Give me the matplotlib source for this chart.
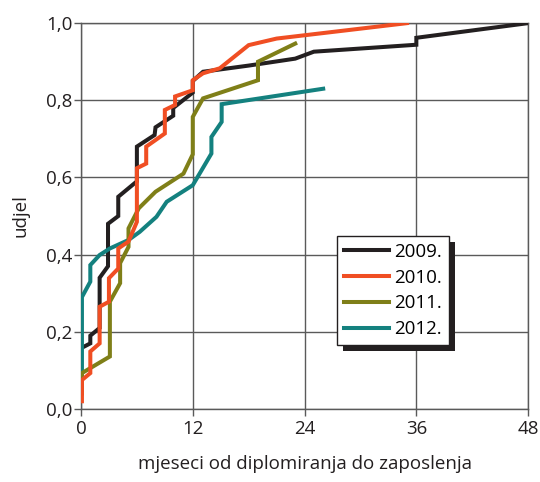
import matplotlib.pyplot as plt
from matplotlib.patches import Rectangle

plt.rcParams['font.family'] = ['Open Sans', 'DejaVu Sans']

# data (months after graduation, share employed)
months_2009 = [0.2, 1.0, 1.0, 2.0, 2.0, 2.9, 2.9, 4.0, 4.0, 6.0, 6.0, 7.9, 8.0, 9.9, 9.9,
               12.0, 12.0, 13.1, 18.0, 23.0, 25.0, 36.0, 36.0, 48.0]
share_2009 = [0.16, 0.17, 0.19, 0.21, 0.34, 0.37, 0.48, 0.50, 0.55, 0.59, 0.68, 0.71, 0.73, 0.76, 0.78,
              0.82, 0.85, 0.874, 0.89, 0.908, 0.926, 0.944, 0.962, 1.0]

months_2010 = [0.1, 0.1, 1.0, 1.0, 2.0, 2.0, 3.0, 3.0, 4.0, 4.0, 5.1, 6.0, 6.0, 7.0, 7.0, 9.0, 9.0,
               10.1, 10.1, 12.0, 12.0, 13.1, 14.9, 18.0, 21.0, 35.0]
share_2010 = [0.02, 0.075, 0.093, 0.149, 0.17, 0.265, 0.278, 0.339, 0.364, 0.416, 0.434, 0.485, 0.624,
              0.636, 0.68, 0.714, 0.775, 0.788, 0.81, 0.826, 0.852, 0.87, 0.883, 0.943, 0.96, 1.0]

months_2011 = [0.1, 0.1, 3.1, 3.1, 4.2, 4.2, 5.1, 5.1, 6.2, 8.0, 11.0, 12.0, 12.0, 13.1, 19.0, 19.0, 23.0]
share_2011 = [0.04, 0.093, 0.136, 0.278, 0.326, 0.378, 0.42, 0.468, 0.52, 0.563, 0.61, 0.66, 0.757,
              0.805, 0.852, 0.9, 0.947]

months_2012 = [0.1, 0.1, 1.0, 1.0, 2.0, 3.1, 5.1, 6.3, 8.1, 9.2, 12.0, 14.0, 14.0, 15.1, 15.1, 26.0]
share_2012 = [0.05, 0.29, 0.33, 0.373, 0.399, 0.416, 0.438, 0.459, 0.498, 0.537, 0.58, 0.662, 0.705,
              0.744, 0.79, 0.83]

labels = ['2009.', '2010.', '2011.', '2012.']
colors = ['#231f20', '#f04e23', '#7f7f18', '#14817f']

x_ticks = [0, 12, 24, 36, 48]
y_ticks = [0.0, 0.2, 0.4, 0.6, 0.8, 1.0]
y_tick_labels = ['0,0', '0,2', '0,4', '0,6', '0,8', '1,0']

fs = 13.5

fig = plt.figure(figsize=(5.4, 4.82), dpi=100)
ax = fig.add_axes([0.15, 0.1515, 0.828, 0.8005])

lw = 2.9
l09, = ax.plot(months_2009, share_2009, color=colors[0], lw=lw, zorder=3, solid_joinstyle='miter')
l12, = ax.plot(months_2012, share_2012, color=colors[3], lw=lw, zorder=3.1, solid_joinstyle='miter')
l11, = ax.plot(months_2011, share_2011, color=colors[2], lw=lw, zorder=3.2, solid_joinstyle='miter')
l10, = ax.plot(months_2010, share_2010, color=colors[1], lw=lw, zorder=3.3, solid_joinstyle='miter')

ax.set_xlim(0, 48)
ax.set_ylim(0, 1.0)
ax.set_xticks(x_ticks)
ax.set_yticks(y_ticks)
ax.set_yticklabels(y_tick_labels)
ax.grid(True, color='#5a5a5a', lw=1.0)
ax.set_axisbelow(True)
for s in ax.spines.values():
    s.set_color('#5a5a5a')
    s.set_linewidth(1.0)
ax.tick_params(axis='both', direction='out', length=5, width=1.0, color='#5a5a5a',
               labelsize=fs, labelcolor='#231f20')
ax.tick_params(axis='x', pad=3)
ax.tick_params(axis='y', pad=1)

ax.set_xlabel('mjeseci od diplomiranja do zaposlenja', fontsize=fs, labelpad=12, color='#231f20')
ax.set_ylabel('udjel', fontsize=fs, labelpad=12, color='#231f20')

leg = ax.legend([l09, l10, l11, l12], labels, loc='upper left', bbox_to_anchor=(0.573, 0.448),
                borderaxespad=0, fontsize=fs, frameon=True, fancybox=False, framealpha=1,
                edgecolor='#231f20', handlelength=2.4, handletextpad=0.3, labelspacing=0.42,
                borderpad=0.35)
leg.get_frame().set_linewidth(1.0)
leg.set_zorder(10)

# hard black drop shadow behind the legend box
fig.canvas.draw()
bb = leg.get_window_extent()
inv = ax.transAxes.inverted()
(x0, y0), (x1, y1) = inv.transform([(bb.x0 + 6, bb.y0 - 6), (bb.x1 + 6, bb.y1 - 6)])
ax.add_patch(Rectangle((x0, y0), x1 - x0, y1 - y0, transform=ax.transAxes,
                       facecolor='#231f20', edgecolor='none', zorder=9, clip_on=False))

plt.savefig('out.png', dpi=100)
plt.close()
